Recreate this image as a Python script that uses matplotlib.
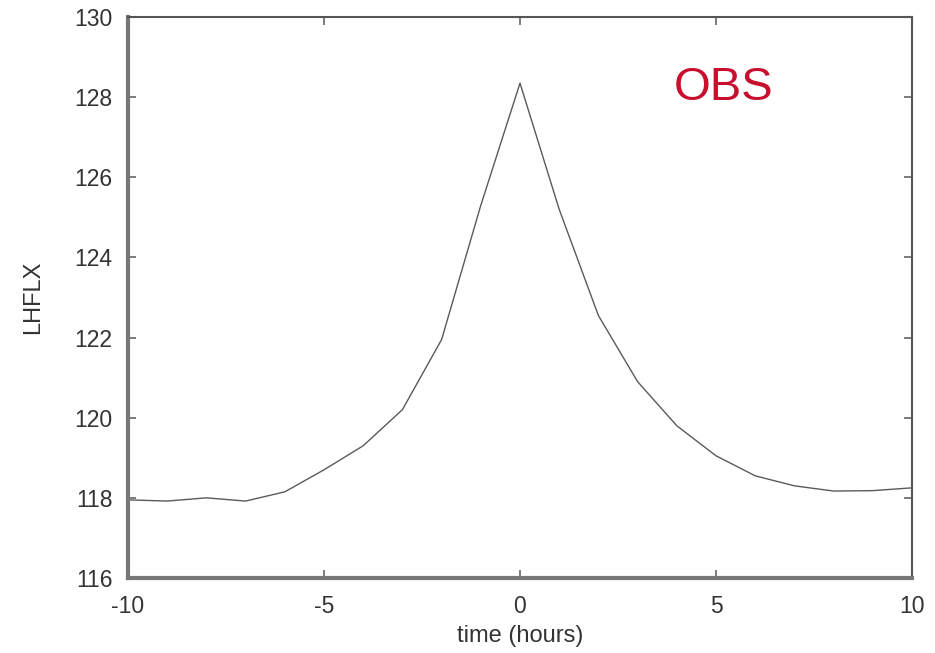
import matplotlib
matplotlib.use("Agg")
import matplotlib.pyplot as plt

plt.rcParams['font.family'] = ['Liberation Sans', 'DejaVu Sans']

# hours relative to event, and composite latent heat flux (OBS)
hours = [-10, -9, -8, -7, -6, -5, -4, -3, -2, -1, 0,
         1, 2, 3, 4, 5, 6, 7, 8, 9, 10]
lhflx = [117.95, 117.92, 118.0, 117.92, 118.15, 118.7, 119.3, 120.2, 121.95, 125.3, 128.35,
         125.2, 122.55, 120.9, 119.8, 119.05, 118.55, 118.3, 118.17, 118.18, 118.25]

xticks = [-10, -5, 0, 5, 10]
yticks = [116, 118, 120, 122, 124, 126, 128, 130]

fig = plt.figure(figsize=(9.35, 6.53), dpi=100)
ax = fig.add_axes([128 / 935, 1 - 578 / 653, (912 - 128) / 935, (578 - 17) / 653])

ax.plot(hours, lhflx, color="#5a5a5a", linewidth=1.0)

ax.set_xlim(-10, 10)
ax.set_ylim(116, 130)
ax.set_xticks(xticks)
ax.set_yticks(yticks)
ax.set_xticklabels([str(t) for t in xticks])

ax.tick_params(direction="in", length=6, width=1.2, color="#666666",
               top=True, right=True, labelsize=16.5, labelcolor="#333333")
ax.tick_params(axis="x", pad=12)
ax.tick_params(axis="y", pad=11)

for side in ["left", "bottom"]:
    ax.spines[side].set_linewidth(3)
    ax.spines[side].set_color("#777777")
for side in ["top", "right"]:
    ax.spines[side].set_linewidth(1.5)
    ax.spines[side].set_color("#555555")

ax.set_xlabel("time (hours)", fontsize=17, color="#333333", labelpad=5)
ax.set_ylabel("LHFLX", fontsize=17, color="#333333", labelpad=22)

ax.text(0.76, 0.873, "OBS", transform=ax.transAxes, fontsize=34,
        color="#c8102e", ha="center", va="center")

fig.savefig("out.png", dpi=100)
